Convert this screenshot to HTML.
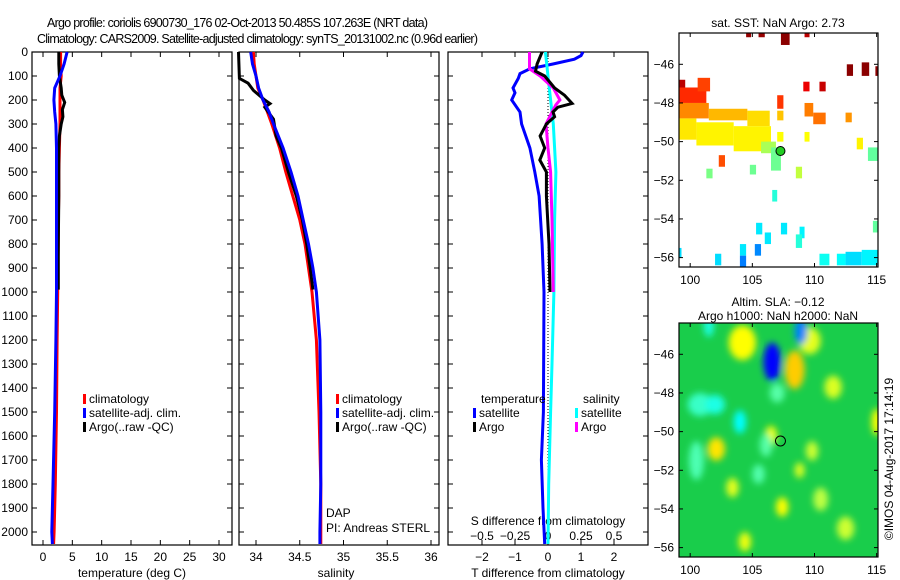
<!DOCTYPE html>
<html><head><meta charset="utf-8"><style>
html,body{margin:0;padding:0;background:#fff;}
svg{display:block;font-family:"Liberation Sans",sans-serif;font-size:12px;}
</style></head><body>
<svg id="fig" width="900" height="580" viewBox="0 0 900 580" xmlns="http://www.w3.org/2000/svg">
<defs>
<filter id="blur" x="-50%" y="-50%" width="200%" height="200%"><feGaussianBlur stdDeviation="3.5"/></filter>
<clipPath id="clipSla"><rect x="679" y="323" width="199" height="234"/></clipPath>
<clipPath id="clipSst"><rect x="679" y="33" width="199" height="234"/></clipPath>
</defs>
<text x="47" y="27" textLength="381" style="font-size:12.5px">Argo profile: coriolis 6900730_176 02-Oct-2013 50.485S 107.263E (NRT data)</text>
<text x="37" y="43" textLength="441" style="font-size:12.5px">Climatology: CARS2009. Satellite-adjusted climatology: synTS_20131002.nc (0.96d earlier)</text>
<g id="plots"></g>
</svg>
<script>
// ---------- data ----------
const depths    = [0,50,100,150,200,250,300,400,500,600,700,800,900,1000,1200,1500,1800,2000,2050];
const tempClim  = [3.0,3.0,3.1,2.9,2.9,2.9,2.9,2.8,2.7,2.7,2.6,2.6,2.5,2.5,2.4,2.3,2.1,1.9,1.8];
const tempSat   = [4.1,3.6,2.9,2.0,1.85,2.0,2.2,2.3,2.3,2.3,2.3,2.3,2.3,2.3,2.2,2.0,1.7,1.5,1.6];
const argoDepths= [0,50,100,150,180,210,240,270,300,350,400,500,600,800,990];
const tempArgo  = [2.7,2.7,2.8,3.1,3.2,3.7,3.3,3.4,3.1,2.8,2.7,2.7,2.7,2.6,2.6];
const salClim   = [33.97,33.98,34.0,34.02,34.08,34.13,34.18,34.27,34.34,34.42,34.5,34.56,34.6,34.64,34.69,34.72,34.74,34.74,34.74];
const salSat    = [33.94,33.96,34.0,34.03,34.08,34.15,34.2,34.31,34.4,34.48,34.54,34.6,34.65,34.69,34.73,34.74,34.74,34.73,34.73];
const salArgoD  = [0,110,130,160,200,215,230,280,350,400,500,600,700,800,900,990];
const salArgo   = [33.8,33.81,33.91,33.97,34.1,34.16,34.1,34.2,34.23,34.29,34.37,34.46,34.53,34.58,34.62,34.65];
const dTSatD    = [0,15,30,50,70,90,110,150,170,200,250,300,400,500,600,800,1000,1500,1700,1900,2050];
const dTSat     = [1.06,1.0,0.8,0.15,-0.55,-0.85,-0.9,-1.06,-1.0,-1.1,-0.85,-0.8,-0.55,-0.4,-0.27,-0.18,-0.12,-0.14,-0.2,-0.15,-0.1];
const dTArgoD   = [0,50,80,100,150,180,214,230,250,270,300,350,400,450,500,600,800,1000];
const dTArgo    = [-0.18,-0.33,-0.38,-0.1,0.2,0.5,0.73,0.3,0.15,0.2,-0.05,-0.24,-0.1,-0.25,-0.05,-0.05,0.03,0.06];
const dSArgoD   = [0,70,100,150,200,220,240,300,400,500,700,1000];
const dSArgo    = [-0.14,-0.14,-0.06,0.04,0.09,0.06,0.04,-0.015,0.0,0.02,0.03,0.04];
const dSSatD    = [0,100,200,300,500,700,1000,1300,1500,1800,2050];
const dSSat     = [-0.02,0.0,0.02,0.04,0.06,0.05,0.045,0.03,0.02,0.005,0.0];
const depthTicks= [0,100,200,300,400,500,600,700,800,900,1000,1100,1200,1300,1400,1500,1600,1700,1800,1900,2000];
const tempTicks = [0,5,10,15,20,25,30];
const salTicks  = [34,34.5,35,35.5,36];
const salTickLbl= ["34","34.5","35","35.5","36"];
const dTTicks   = [-2,-1,0,1,2];
const dSTicks   = [-0.5,-0.25,0,0.25,0.5];
const dSTickLbl = ["\u22120.5","\u22120.25","0","0.25","0.5"];
// SST clusters: lon0, lon1, lat0, lat1, temperature
const sstLon0 = [104.5,105.5,107.3,109.2,112.6,113.8,114.9,109.1,110.4,99.1,99.1,100.6,107.0,99.1,101.5,104.6,107.0,109.2,109.9,112.5,99.1,100.5,103.5,107.0,109.2,113.4,105.7,106.5,104.8,101.3,114.3,108.5,102.3,106.6,105.3,107.3,108.8,106.0,104.0,105.2,102.0,99.1,108.5,114.7,110.4,111.8,112.5,113.8,104.0];
const sstLon1 = [104.9,106.0,108.0,109.6,113.1,114.4,115.2,109.6,110.9,99.6,101.3,101.6,107.5,101.5,104.6,106.4,107.5,109.9,110.9,113.0,100.5,103.5,106.5,107.5,109.6,113.9,106.9,107.3,105.3,101.8,115.2,109.0,102.8,107.0,105.8,107.8,109.2,106.5,104.5,105.7,102.5,99.3,109.0,115.2,111.2,112.5,113.8,115.2,104.5];
const sstLat0 = [-44.4,-44.4,-44.4,-44.4,-46.0,-45.9,-46.1,-46.9,-46.9,-46.8,-47.2,-46.7,-47.6,-48.0,-48.3,-48.4,-48.4,-48.0,-48.5,-48.5,-48.8,-49.0,-49.2,-49.5,-49.5,-49.8,-50.0,-50.3,-51.2,-51.4,-50.3,-51.3,-50.7,-52.5,-54.2,-54.2,-54.4,-54.7,-55.3,-55.3,-55.8,-55.5,-54.8,-54.1,-55.8,-55.8,-55.7,-55.6,-55.9];
const sstLat1 = [-44.6,-44.6,-45.0,-44.6,-46.6,-46.6,-46.6,-47.4,-47.4,-47.4,-48.0,-47.4,-48.3,-48.8,-48.9,-49.2,-48.9,-48.7,-49.1,-49.0,-49.9,-50.2,-50.5,-50.0,-50.0,-50.4,-50.6,-51.5,-51.7,-51.9,-51.0,-51.9,-51.3,-53.1,-54.8,-54.8,-55.0,-55.3,-55.9,-55.9,-56.4,-56.0,-55.5,-54.7,-56.4,-56.4,-56.4,-56.4,-56.5];
const sstTemp = [8.3,8.3,8.4,8.0,8.4,8.4,8.4,7.6,7.9,8.0,7.1,6.9,7.0,6.3,5.9,5.6,5.8,6.4,6.5,6.2,5.5,5.4,5.4,5.3,5.3,5.4,4.6,4.1,4.1,4.2,4.0,4.8,6.8,3.5,3.0,3.0,3.1,3.0,3.0,2.2,2.9,2.9,3.5,4.0,3.3,3.2,2.9,3.1,2.1];
// SLA anomalies: lon, lat, rx(deg), ry(deg), sla(m)
const slaLon = [104.2,106.6,108.4,109.6,108.9,100.8,102.0,104.0,102.1,106.5,109.8,111.5,103.4,107.4,108.8,106.1,100.5,110.5,115.0,104.4,107.0,105.5,101.5,112.5];
const slaLat = [-45.4,-46.4,-46.8,-45.3,-44.8,-48.6,-48.6,-49.5,-50.9,-50.2,-51.0,-47.7,-52.9,-53.9,-52.0,-50.7,-51.5,-53.5,-49.5,-55.7,-48.0,-52.2,-44.5,-55.0];
const slaRx  = [1.1,0.7,0.8,0.9,0.5,1.0,0.8,0.5,0.7,0.5,0.5,0.7,0.5,0.5,0.4,0.5,0.6,0.6,0.4,0.5,0.6,0.5,0.4,0.7];
const slaRy  = [0.9,1.0,1.0,0.7,0.7,0.6,0.5,0.6,0.6,0.5,0.5,0.6,0.5,0.5,0.4,0.6,1.0,0.6,0.7,0.5,0.5,0.5,0.6,0.6];
const slaVal = [0.25,-0.75,0.35,0.2,-0.5,-0.14,-0.2,-0.25,0.3,0.22,0.15,0.18,0.2,0.25,0.18,-0.08,-0.1,0.12,0.25,0.22,-0.08,-0.09,-0.2,0.15];

// ---------- helpers ----------
const NS="http://www.w3.org/2000/svg";
const root=document.getElementById('plots');
function mk(tag,attrs,parent){const e=document.createElementNS(NS,tag);for(const k in attrs)e.setAttribute(k,attrs[k]);(parent||root).appendChild(e);return e;}
function txt(x,y,s,anchor,parent){const t=mk('text',{x:x,y:y,'text-anchor':anchor||'start'},parent);t.textContent=s;return t;}
const yD=d=>52+0.24*d;
const PT={x0:32,x1:232},PS={x0:239,x1:439},PD={x0:448,x1:648};
const xT=v=>43+v*5.867, xS=v=>256+(v-34)*87.5, xDT=v=>548+v*33, xDS=v=>548+v*132;
function line(ds,vs,fx,color,name){
  const pts=ds.map((d,i)=>fx(vs[i]).toFixed(1)+','+yD(d).toFixed(1)).join(' ');
  const p=mk('polyline',{points:pts,fill:'none',stroke:color,'stroke-width':3,'stroke-linejoin':'miter'});
  
  
}
function frame(P,name){
  const g=mk('g',{});
  
  
  mk('rect',{x:P.x0,y:52,width:P.x1-P.x0,height:493,fill:'none',stroke:'#000','stroke-width':1.2},g);
  depthTicks.forEach(d=>{
    mk('line',{x1:P.x0,x2:P.x0+5,y1:yD(d),y2:yD(d),stroke:'#000'},g);
    mk('line',{x1:P.x1-5,x2:P.x1,y1:yD(d),y2:yD(d),stroke:'#000'},g);
  });
  return g;
}
function xticks(g,P,vals,fx,labels,yl){
  vals.forEach((v,i)=>{const x=fx(v);
    mk('line',{x1:x,x2:x,y1:545,y2:540,stroke:'#000'},g);
    mk('line',{x1:x,x2:x,y1:52,y2:57,stroke:'#000'},g);
    if(labels){const t=txt(x,yl,labels[i],'middle',g);}
  });
}
function legend(x,y,color,label,g){
  mk('rect',{x:x,y:y-9,width:3,height:10,fill:color},g);
  txt(x+6,y,label,'start',g);
}

// ---------- panel 1: temperature ----------
let g1=frame(PT,'temperature-panel');
xticks(g1,PT,tempTicks,xT,tempTicks.map(String),561);
depthTicks.forEach(d=>{const t=txt(28,yD(d)+4,String(d),'end',g1);});
let tx=txt(132,577,'temperature (deg C)','middle',g1);


line(depths,tempClim,xT,'#ff0000','temp-climatology-line');
line(argoDepths,tempArgo,xT,'#000000','temp-argo-line');
line(depths,tempSat,xT,'#0000ff','temp-satellite-line');
let lg1=mk('g',{});


legend(83,403,'#ff0000','climatology',lg1);legend(83,417,'#0000ff','satellite-adj. clim.',lg1);legend(83,431,'#000000','Argo(..raw -QC)',lg1);

// ---------- panel 2: salinity ----------
let g2=frame(PS,'salinity-panel');
xticks(g2,PS,salTicks,xS,salTickLbl,561);
let sx=txt(336,577,'salinity','middle',g2);


line(depths,salClim,xS,'#ff0000','sal-climatology-line');
line(salArgoD,salArgo,xS,'#000000','sal-argo-line');
line(depths,salSat,xS,'#0000ff','sal-satellite-line');
let lg2=mk('g',{});


legend(336,403,'#ff0000','climatology',lg2);legend(336,417,'#0000ff','satellite-adj. clim.',lg2);legend(336,431,'#000000','Argo(..raw -QC)',lg2);
let dap=mk('g',{});


txt(326,517,'DAP','start',dap);txt(326,532,'PI: Andreas STERL','start',dap);

// ---------- panel 3: differences ----------
let g3=frame(PD,'difference-panel');
xticks(g3,PD,dTTicks,xDT,dTTicks.map(v=>v<0?'\u2212'+(-v):String(v)),561);
dSTicks.forEach((v,i)=>{const t=txt(xDS(v),540,dSTickLbl[i],'middle',g3);});
let st=txt(548,525,'S difference from climatology','middle',g3);


let tt=txt(548,577,'T difference from climatology','middle',g3);


mk('line',{x1:xDT(0),x2:xDT(0),y1:52,y2:545,stroke:'#000','stroke-dasharray':'1,2'},g3);
line(dTSatD,dTSat,xDT,'#0000ff','t-diff-satellite-line');
line(dSSatD,dSSat,xDS,'#00ffff','s-diff-satellite-line');
line(dSArgoD,dSArgo,xDS,'#ff00ff','s-diff-argo-line');
line(dTArgoD,dTArgo,xDT,'#000000','t-diff-argo-line');
let lg3=mk('g',{});


txt(481,403,'temperature','start',lg3);txt(583,403,'salinity','start',lg3);
legend(473,417,'#0000ff','satellite',lg3);legend(473,431,'#000000','Argo',lg3);
legend(575,417,'#00ffff','satellite',lg3);legend(575,431,'#ff00ff','Argo',lg3);

// ---------- maps ----------
const mx=lon=>679+(lon-99.1)*12.43;
function my(lat,y0){return y0+31.3+(-46-lat)*19.33;}
function jet(t){t=Math.max(0,Math.min(1,t));
  const r=Math.max(0,Math.min(1,1.5-Math.abs(4*t-3))),g=Math.max(0,Math.min(1,1.5-Math.abs(4*t-2))),b=Math.max(0,Math.min(1,1.5-Math.abs(4*t-1)));
  return 'rgb('+Math.round(r*255)+','+Math.round(g*255)+','+Math.round(b*255)+')';}
function mapFrame(y0,name,clip){
  const g=mk('g',{});
  
  
  const inner=mk('g',{'clip-path':'url(#'+clip+')'},g);
  return {g:g,inner:inner};
}
function mapAxes(g,y0){
  mk('rect',{x:679,y:y0,width:199,height:234,fill:'none',stroke:'#000','stroke-width':1.2},g);
  [100,105,110,115].forEach(l=>{const x=mx(l);
    mk('line',{x1:x,x2:x,y1:y0,y2:y0+4,stroke:'#000'},g);mk('line',{x1:x,x2:x,y1:y0+234,y2:y0+230,stroke:'#000'},g);
    const t=txt(x,y0+251,String(l),'middle',g);});
  [-46,-48,-50,-52,-54,-56].forEach(l=>{const y=my(l,y0);
    mk('line',{x1:679,x2:683,y1:y,y2:y,stroke:'#000'},g);mk('line',{x1:878,x2:874,y1:y,y2:y,stroke:'#000'},g);
    const t=txt(674,y+4,'\u2212'+(-l),'end',g);});
}
// SST map
const m1=mapFrame(33,'sst-map','clipSst');
sstLon0.forEach((l,i)=>{
  const r=mk('rect',{x:mx(l),y:my(sstLat0[i],33),width:mx(sstLon1[i])-mx(l),height:my(sstLat1[i],33)-my(sstLat0[i],33),fill:jet(sstTemp[i]/8.5)},m1.inner);
  
  
});
mk('circle',{cx:mx(107.263),cy:my(-50.485,33),r:4.5,fill:'#22cc22',stroke:'#000'},m1.g);
mapAxes(m1.g,33);
let s1=txt(778,27,'sat. SST: NaN Argo: 2.73','middle',m1.g);


// SLA map
const m2=mapFrame(323,'sla-map','clipSla');
mk('rect',{x:679,y:323,width:199,height:234,fill:'rgb(25,205,75)'},m2.inner);
const blobs=mk('g',{filter:'url(#blur)'},m2.inner);
slaLon.forEach((l,i)=>{
  const e=mk('ellipse',{cx:mx(l),cy:my(slaLat[i],323),rx:slaRx[i]*12.43,ry:slaRy[i]*19.33,fill:jet(0.5+slaVal[i]*0.5)},blobs);
  
  
});
mk('circle',{cx:mx(107.263),cy:my(-50.485,323),r:5,fill:'none',stroke:'#000'},m2.g);
mapAxes(m2.g,323);
let s2=txt(778,306,'Altim. SLA: \u22120.12','middle',m2.g);


let s3=txt(778,320,'Argo h1000: NaN h2000: NaN','middle',m2.g);


let cp=txt(0,0,'\u00a9IMOS 04-Aug-2017 17:14:19','middle');
cp.setAttribute('transform','translate(893,459) rotate(-90)');


</script>
</body></html>
